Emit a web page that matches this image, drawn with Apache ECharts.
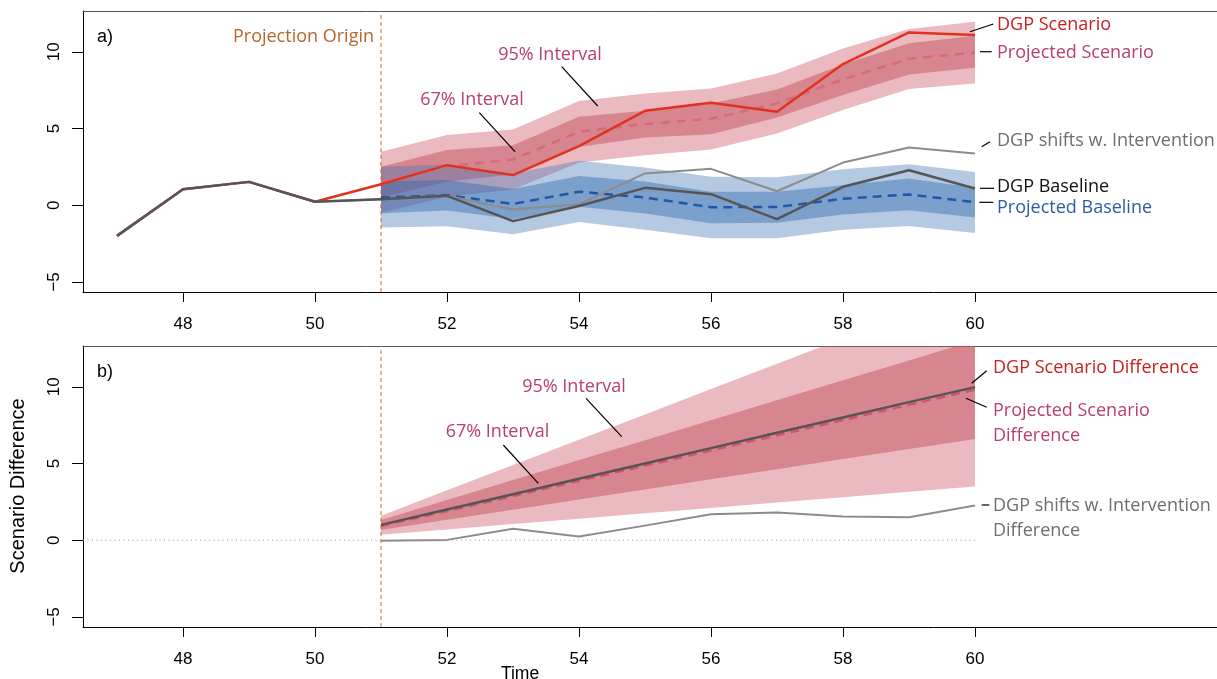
<!DOCTYPE html>
<html>
<head>
<meta charset="utf-8">
<script src="https://cdn.jsdelivr.net/npm/echarts@6/dist/echarts.min.js"></script>
<style>html,body{margin:0;padding:0;background:#fff}#c{width:1217px;height:679px}</style>
</head>
<body>
<div id="c"></div>
<script>
// ---------- data ----------
var xTicks = [48, 50, 52, 54, 56, 58, 60];
var yTicks = [-5, 0, 5, 10];

var timeAll = [47, 48, 49, 50, 51, 52, 53, 54, 55, 56, 57, 58, 59, 60];
var dgpScenario = [-2.0, 1.04, 1.52, 0.22, 1.37, 2.61, 1.96, 3.85, 6.15, 6.68, 6.09, 9.2, 11.26, 11.1];
var dgpBaseline = [-2.0, 1.04, 1.52, 0.22, 0.38, 0.61, -1.04, -0.05, 1.13, 0.72, -0.91, 1.2, 2.28, 1.09];
var dgpShifts   = [-2.0, 1.04, 1.52, 0.22, 0.38, 0.61, -0.28, 0.06, 2.07, 2.37, 0.91, 2.78, 3.76, 3.37];

var projTime = [51, 52, 53, 54, 55, 56, 57, 58, 59, 60];
var projScenario = [1.5, 2.55, 2.98, 4.78, 5.3, 5.63, 6.64, 8.2, 9.55, 9.95];
var scen95Hi = [3.48, 4.57, 4.93, 6.8, 7.28, 7.61, 8.59, 10.22, 11.48, 11.96];
var scen67Hi = [2.5, 3.6, 3.91, 5.76, 6.15, 6.63, 7.55, 9.18, 10.55, 11.05];
var scen67Lo = [0.5, 1.55, 2.0, 3.8, 4.41, 4.63, 5.72, 7.18, 8.52, 8.96];
var scen95Lo = [-0.5, 0.55, 1.02, 2.78, 3.26, 3.63, 4.68, 6.2, 7.57, 7.94];

var projBaseline = [0.5, 0.65, 0.08, 0.88, 0.5, -0.13, -0.12, 0.42, 0.7, 0.2];
var base95Hi = [2.5, 2.65, 2.06, 2.9, 2.46, 1.85, 1.82, 2.35, 2.67, 2.17];
var base67Hi = [1.55, 1.65, 1.05, 1.9, 1.55, 0.87, 0.87, 1.3, 1.74, 1.13];
var base67Lo = [-0.52, -0.35, -0.9, -0.1, -0.55, -1.18, -1.15, -0.6, -0.33, -0.8];
var base95Lo = [-1.45, -1.37, -1.9, -1.1, -1.6, -2.15, -2.15, -1.6, -1.35, -1.82];

var diffTime = [51, 52, 53, 54, 55, 56, 57, 58, 59, 60];
var dgpScenDiff  = [1.0, 2.0, 3.0, 4.0, 5.0, 6.0, 7.0, 8.0, 9.0, 9.98];
var projScenDiff = [0.93, 1.9, 2.88, 3.87, 4.86, 5.85, 6.84, 7.83, 8.82, 9.82];
var diff95Hi = [1.6, 3.25, 4.9, 6.55, 8.2, 9.85, 11.5, 13.15, 14.8, 16.45];
var diff67Hi = [1.32, 2.62, 3.92, 5.22, 6.52, 7.82, 9.12, 10.42, 11.72, 13.02];
var diff67Lo = [0.67, 1.33, 1.99, 2.65, 3.31, 3.97, 4.63, 5.29, 5.95, 6.6];
var diff95Lo = [0.35, 0.7, 1.05, 1.4, 1.75, 2.1, 2.45, 2.8, 3.15, 3.5];
var shiftsDiff = [-0.04, 0.02, 0.74, 0.24, 0.95, 1.69, 1.8, 1.54, 1.5, 2.26];

var originTime = 51;
var zeroLineRange = [46.485, 60];

// ---------- layout / style ----------
var X_MIN = 46.485, X_MAX = 63.667, Y_MIN = -5.66, Y_MAX = 12.66;
var annFont = '18px "Open Sans"';
var C = {pink: '#B8406A', red: '#C8201E', gray: '#6E6E6E', blue: '#2F5BA6', orange: '#B8652E', black: '#111'};

function pairs(xs, ys) { return xs.map(function (x, i) { return [x, ys[i]]; }); }

function band(idx, ts, lo, hi, fill, z) {
  return {
    type: 'custom', xAxisIndex: idx, yAxisIndex: idx, clip: true, silent: true, z: z,
    data: ts.map(function (t, i) { return [t, lo[i], hi[i]]; }),
    encode: {x: 0, y: [1, 2]},
    renderItem: function (params, api) {
      if (params.dataIndex !== 0) return null;
      var pts = [];
      for (var i = 0; i < ts.length; i++) pts.push(api.coord([ts[i], hi[i]]));
      for (var j = ts.length - 1; j >= 0; j--) pts.push(api.coord([ts[j], lo[j]]));
      return {type: 'polygon', shape: {points: pts}, style: {fill: fill, stroke: null}};
    }
  };
}

function line(idx, data, color, width, type, z) {
  return {
    type: 'line', xAxisIndex: idx, yAxisIndex: idx, data: data, symbol: 'none', showSymbol: false,
    silent: true, z: z, animation: false,
    lineStyle: {color: color, width: width, type: type || 'solid', cap: 'butt', join: 'round'}
  };
}

function xAxis(idx) {
  return {
    type: 'value', gridIndex: idx, min: X_MIN, max: X_MAX, position: 'bottom',
    axisLine: {show: true, onZero: false, lineStyle: {color: '#000', width: 1}},
    axisTick: {show: true, inside: false, length: 10, customValues: xTicks, lineStyle: {color: '#000'}},
    axisLabel: {show: true, customValues: xTicks, margin: 24, color: '#000', fontSize: 17, fontFamily: 'Liberation Sans'},
    splitLine: {show: false}
  };
}
function xTopAxis(idx) {
  return {
    type: 'value', gridIndex: idx, min: X_MIN, max: X_MAX, position: 'top',
    axisLine: {show: true, onZero: false, lineStyle: {color: '#555', width: 1}},
    axisTick: {show: false}, axisLabel: {show: false}, splitLine: {show: false}
  };
}
function yAxis(idx) {
  return {
    type: 'value', gridIndex: idx, min: Y_MIN, max: Y_MAX,
    axisLine: {show: true, onZero: false, lineStyle: {color: '#000', width: 1}},
    axisTick: {show: true, inside: false, length: 11, customValues: yTicks, lineStyle: {color: '#000'}},
    axisLabel: {show: true, customValues: yTicks, rotate: 90, margin: 20, color: '#000', fontSize: 17,
      fontFamily: 'Liberation Sans', formatter: function (v) { return v < 0 ? '\u2212' + (-v) : String(v); }},
    splitLine: {show: false}
  };
}

function txt(s, x, y, color, align, font) {
  return {type: 'text', x: x, y: y, z: 100, silent: true,
    style: {text: s, fill: color, font: font || annFont, align: align || 'left', verticalAlign: 'middle'}};
}
function seg(x1, y1, x2, y2) {
  return {type: 'line', z: 100, silent: true, shape: {x1: x1, y1: y1, x2: x2, y2: y2}, style: {stroke: '#000', lineWidth: 1.2}};
}

var red95 = 'rgba(204,82,100,0.40)', red67 = 'rgba(190,70,85,0.45)';
var blue95 = 'rgba(70,120,185,0.40)', blue67 = 'rgba(40,100,170,0.40)';

var option = {
  animation: false,
  backgroundColor: '#fff',
  grid: [
    {left: 83, top: 11, right: 0, height: 281, show: false, containLabel: false},
    {left: 83, top: 346, right: 0, height: 281, show: false, containLabel: false}
  ],
  xAxis: [xAxis(0), xAxis(1), xTopAxis(0), xTopAxis(1)],
  yAxis: [yAxis(0), yAxis(1)],
  series: [
    // panel a
    band(0, projTime, scen95Lo, scen95Hi, red95, 2),
    band(0, projTime, scen67Lo, scen67Hi, red67, 3),
    band(0, projTime, base95Lo, base95Hi, blue95, 4),
    band(0, projTime, base67Lo, base67Hi, blue67, 5),
    line(0, [[originTime, Y_MIN], [originTime, Y_MAX]], '#D2691E', 1, [4, 3], 6),
    line(0, pairs(projTime, projScenario), '#D66A7C', 2.5, [9, 7], 7),
    line(0, pairs(projTime, projBaseline), '#1F58A8', 2.5, [9, 6], 8),
    line(0, pairs(timeAll, dgpScenario), '#E0321F', 2.5, 'solid', 9),
    line(0, pairs(timeAll, dgpShifts), '#8C8C8C', 2, 'solid', 10),
    line(0, pairs(timeAll, dgpBaseline), '#555555', 2.5, 'solid', 11),
    // panel b
    band(1, diffTime, diff95Lo, diff95Hi, red95, 2),
    band(1, diffTime, diff67Lo, diff67Hi, red67, 3),
    line(1, [[originTime, Y_MIN], [originTime, Y_MAX]], '#D2691E', 1, [4, 3], 6),
    line(1, [[zeroLineRange[0], 0], [zeroLineRange[1], 0]], '#999', 1, [1, 3.5], 6),
    line(1, pairs(diffTime, shiftsDiff), '#8C8C8C', 2, 'solid', 7),
    line(1, pairs(diffTime, projScenDiff), '#D2546A', 2.5, [9, 6], 8),
    line(1, pairs(diffTime, dgpScenDiff), '#555555', 2.5, 'solid', 9)
  ],
  graphic: {elements: [
    txt('a)', 97, 37, '#000', 'left', '18px "Liberation Sans"'),
    txt('Projection Origin', 374, 37, C.orange, 'right'),
    txt('95% Interval', 550, 55, C.pink, 'center'),
    seg(561.7, 66.7, 597.7, 106),
    txt('67% Interval', 472, 100, C.pink, 'center'),
    seg(479.3, 112.7, 515, 151.7),
    txt('DGP Scenario', 997, 25, C.red),
    seg(970, 31.7, 993.3, 24),
    txt('Projected Scenario', 997, 53, C.pink),
    seg(980, 51.7, 991.7, 51.7),
    txt('DGP shifts w. Intervention', 997, 141, C.gray),
    seg(981.7, 146.7, 990, 141.7),
    txt('DGP Baseline', 997, 187, C.black),
    seg(980, 188.3, 994, 188.3),
    txt('Projected Baseline', 997, 207.5, C.blue),
    seg(979.3, 202.3, 993.3, 202.3),

    txt('b)', 97, 372, '#000', 'left', '18px "Liberation Sans"'),
    txt('95% Interval', 574, 387, C.pink, 'center'),
    seg(586, 398.3, 621.7, 436.7),
    txt('67% Interval', 497.5, 432, C.pink, 'center'),
    seg(503.3, 445, 538.3, 483.3),
    txt('DGP Scenario Difference', 993, 368, C.red),
    seg(971.7, 383.3, 986.7, 370.7),
    txt('Projected Scenario', 993, 410.5, C.pink),
    txt('Difference', 993, 435.5, C.pink),
    seg(966, 398.3, 986.7, 407.3),
    txt('DGP shifts w. Intervention', 993, 506, C.gray),
    txt('Difference', 993, 531, C.gray),
    seg(981.7, 505, 989.3, 505),

    txt('Time', 520, 674, '#000', 'center', '17.5px "Liberation Sans"'),
    {type: 'text', x: 18, y: 486, rotation: Math.PI / 2, z: 100, silent: true,
      style: {text: 'Scenario Difference', fill: '#000', font: '20px "Liberation Sans"', align: 'center', verticalAlign: 'middle'}}
  ]}
};

var chart = echarts.init(document.getElementById('c'), null, {renderer: 'canvas'});
chart.setOption(option);
</script>
</body>
</html>
